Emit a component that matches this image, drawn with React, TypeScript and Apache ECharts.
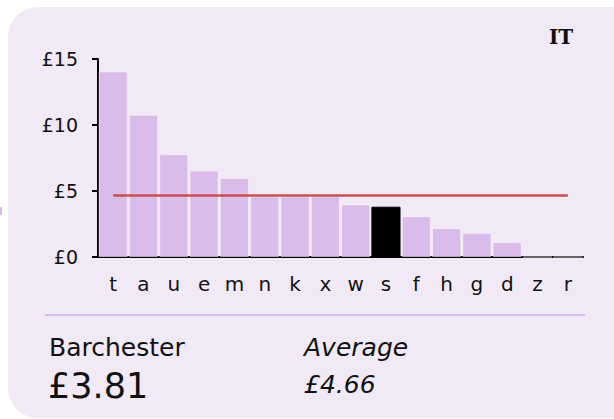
import React, { useEffect, useRef } from "react";
import * as echarts from "echarts";

const categories = ["t", "a", "u", "e", "m", "n", "k", "x", "w", "s", "f", "h", "g", "d", "z", "r"];
const values = [14.05, 10.78, 7.78, 6.55, 5.98, 4.6, 4.6, 4.6, 3.98, 3.81, 3.09, 2.18, 1.83, 1.12, 0, 0];
const highlighted = "s";
const averageValue = 4.66;
const yTicks = { min: 0, max: 15, interval: 5 };
const regionName = "Barchester";
const regionValueText = "£3.81";
const averageLabel = "Average";
const averageText = "£4.66";
const badge = "IT";

const FONT = "DejaVu Sans, Verdana, sans-serif";

export default function App() {
  const ref = useRef<HTMLDivElement>(null);
  useEffect(() => {
    if (!ref.current) return;
    const chart = echarts.init(ref.current, null, { renderer: "svg" });
    chart.setOption({
      animation: false,
      backgroundColor: "#ffffff",
      grid: { left: 98, top: 59, width: 485, height: 198, containLabel: false },
      xAxis: {
        type: "category",
        data: categories,
        axisLine: { show: true, lineStyle: { color: "#000", width: 2 } },
        axisTick: { show: false },
        axisLabel: { color: "#111", fontSize: 20, fontFamily: FONT, margin: 17 },
      },
      yAxis: {
        type: "value",
        min: yTicks.min,
        max: yTicks.max,
        interval: yTicks.interval,
        splitLine: { show: false },
        axisLine: { show: true, lineStyle: { color: "#000", width: 2 } },
        axisTick: { show: true, length: 6, lineStyle: { color: "#000", width: 2 } },
        axisLabel: {
          color: "#111",
          fontSize: 19,
          fontFamily: FONT,
          margin: 20,
          formatter: (v: number) => "£" + v,
        },
      },
      graphic: [
        {
          type: "rect",
          z: -10,
          shape: { x: 8, y: 7, width: 640, height: 411, r: 30 },
          style: { fill: "#f2e9f7" },
        },
        {
          type: "rect",
          z: -10,
          shape: { x: 0, y: 207, width: 2, height: 8 },
          style: { fill: "#d9bce9" },
        },
        {
          type: "line",
          shape: { x1: 45, y1: 315, x2: 585, y2: 315 },
          style: { stroke: "#d9bce9", lineWidth: 2 },
        },
        {
          type: "text",
          x: 549,
          y: 27,
          style: { text: badge, font: "bold 20px 'DejaVu Serif', serif", fill: "#111" },
        },
        {
          type: "text",
          x: 49,
          y: 335,
          style: { text: regionName, font: `25px ${FONT}`, fill: "#111" },
        },
        {
          type: "text",
          x: 48,
          y: 368,
          style: { text: regionValueText, font: `35px ${FONT}`, fill: "#111" },
        },
        {
          type: "text",
          x: 304,
          y: 335,
          style: { text: averageLabel, font: `italic 25px ${FONT}`, fill: "#111" },
        },
        {
          type: "text",
          x: 304,
          y: 372,
          style: { text: averageText, font: `italic 25px ${FONT}`, fill: "#111" },
        },
      ],
      series: [
        {
          type: "bar",
          data: values.map((v, i) => ({
            value: v,
            itemStyle: categories[i] === highlighted ? { color: "#000", borderColor: "#000" } : undefined,
          })),
          barCategoryGap: "4%",
          itemStyle: { color: "#d9bce9", borderColor: "rgba(255,255,255,0.45)", borderWidth: 1 },
          z: 2,
        },
        {
          type: "line",
          data: categories.map(() => averageValue),
          symbol: "none",
          lineStyle: { color: "#c9504f", width: 2.5 },
          z: 3,
        },
      ],
    });
    return () => chart.dispose();
  }, []);
  return (
    <div
      ref={ref}
      style={{ position: "absolute", left: 0, top: 0, width: 614, height: 419 }}
    />
  );
}
